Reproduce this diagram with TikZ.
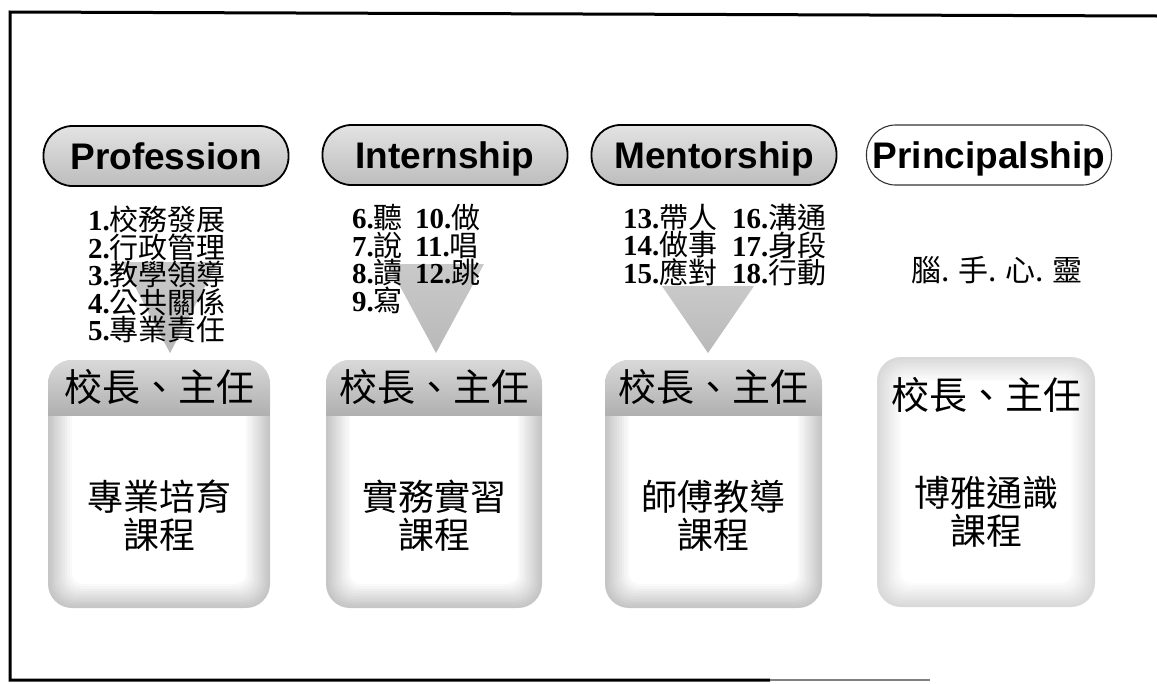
\documentclass[tikz,border=0pt]{standalone}
\usepackage{fontspec}
\setmainfont{Liberation Serif}
\newfontfamily\cjk{Noto Sans CJK TC}
\newfontfamily\hd{Liberation Sans}
\newcommand\li[2]{{\bfseries #1}{\cjk #2}}
\newcommand\cbox[5]{%
  \foreach \i in {0,...,14}{%
    \pgfmathsetmacro\c{max(0,#5-#5/10*\i)}%
    \pgfmathsetmacro\r{max(3,24-1.3*\i)}%
    \fill[gray!\c, rounded corners=\r pt] ({#1+2.4*\i},{#2+2.4*\i}) rectangle ({#3-2.4*\i},{#4-2.4*\i});
  }}
\newcommand\cband[4]{%
  \begin{scope}
    \clip[rounded corners=24pt] (#1,#2) rectangle (#3,#4);
    \shade[top color=gray!30, bottom color=gray!62] (#1,#2) rectangle (#3,{#2+55});
  \end{scope}}
\tikzset{
  pill/.style={rounded corners=29pt, draw=black, line width=1.8pt, top color=gray!22, bottom color=gray!52,
    minimum width=245pt, minimum height=60pt, inner sep=0pt, text height=30pt, text depth=3pt,
    font=\hd\bfseries\fontsize{37}{40}\selectfont},
  pillw/.style={pill, fill=white, top color=white, bottom color=white, draw=black!80, line width=1.1pt},
  lst/.style={align=left, inner sep=0pt, anchor=north west, font=\fontsize{29}{27.5}\selectfont},
  hdr/.style={inner sep=0pt, font=\cjk\fontsize{38}{40}\selectfont},
  body/.style={inner sep=0pt, align=center, font=\cjk\fontsize{36}{38}\selectfont},
  tri/.style={top color=gray!42, bottom color=gray!55, draw=none},
  boxn/.style={inner sep=0pt, draw=none}
}
\begin{document}
\begin{tikzpicture}[x=1pt,y=-1pt]
\useasboundingbox (0,0) rectangle (1157,683);
% frame
\draw[line width=3pt] (1157,16) -- (10,12) -- (10,680) -- (770,680);
\draw[line width=2pt, gray] (770,680) -- (930,680);

% headers
\node[pill]  (h1) at (166,156) {Profession};
\node[pill]  (h2) at (445,155) {Internship};
\node[pill]  (h3) at (714,155) {Mentorship};
\node[pillw] (h4) at (989,155) {Principalship};

% triangles (arrows)
\coordinate (t1) at (170,353);
\coordinate (t2) at (436,353);
\coordinate (t3) at (708,353);
\shade[tri] (122,262) -- (218,262) -- (t1) -- cycle;
\shade[tri] (388,264) -- (484,264) -- (t2) -- cycle;
\shade[tri] (662,286) -- (754,286) -- (t3) -- cycle;

% boxes
\cbox{48}{360}{270}{608}{45}
\cband{48}{360}{270}{608}
\cbox{326}{360}{542}{608}{45}
\cband{326}{360}{542}{608}
\cbox{605}{360}{822}{608}{45}
\cband{605}{360}{822}{608}
\cbox{877}{357}{1095}{607}{30}
\node[boxn, minimum width=222pt, minimum height=248pt] (b1) at (159,484) {};
\node[boxn, minimum width=216pt, minimum height=248pt] (b2) at (434,484) {};
\node[boxn, minimum width=217pt, minimum height=248pt] (b3) at (713.5,484) {};
\node[boxn, minimum width=218pt, minimum height=250pt] (b4) at (986,482) {};

% lists
\node[lst] (l1) at (88,206) {\li{1.}{校務發展}\\ \li{2.}{行政管理}\\ \li{3.}{教學領導}\\ \li{4.}{公共關係}\\ \li{5.}{專業責任}};
\node[lst] (l2a) at (352,204) {\li{6.}{聽}\\ \li{7.}{說}\\ \li{8.}{讀}\\ \li{9.}{寫}};
\node[lst] (l2b) at (415,204) {\li{10.}{做}\\ \li{11.}{唱}\\ \li{12.}{跳}};
\node[lst] (l3a) at (623,204) {\li{13.}{帶人}\\ \li{14.}{做事}\\ \li{15.}{應對}};
\node[lst] (l3b) at (732,204) {\li{16.}{溝通}\\ \li{17.}{身段}\\ \li{18.}{行動}};
\node[inner sep=0pt, font=\cjk\fontsize{30}{32}\selectfont] (l4) at (997,270) {腦. 手. 心. 靈};

% box texts
\node[hdr] (c1) at (159,387) {校長、主任};
\node[hdr] (c2) at (434,387) {校長、主任};
\node[hdr] (c3) at (713,387) {校長、主任};
\node[hdr] (c4) at (986,395) {校長、主任};
\node[body] (d1) at (159,516) {專業培育\\課程};
\node[body] (d2) at (434,516) {實務實習\\課程};
\node[body] (d3) at (713,516) {師傅教導\\課程};
\node[body] (d4) at (986,512) {博雅通識\\課程};
\end{tikzpicture}
\end{document}
